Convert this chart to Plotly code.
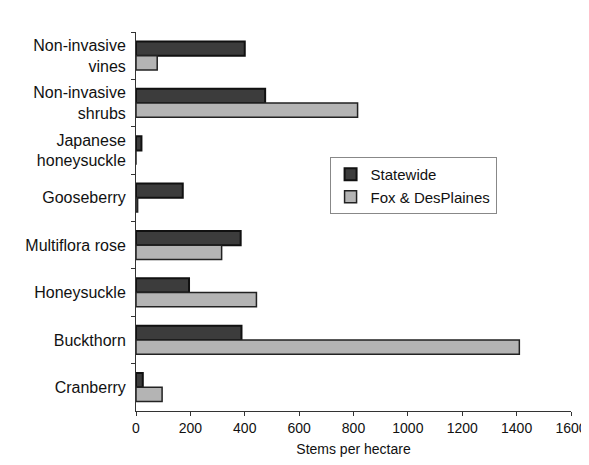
import plotly.graph_objects as go

categories = ["Non-invasive<br>vines", "Non-invasive<br>shrubs", "Japanese<br>honeysuckle",
              "Gooseberry", "Multiflora rose", "Honeysuckle", "Buckthorn", "Cranberry"]
statewide = [400, 475, 20, 172, 385, 195, 388, 25]
fox_desplaines = [78, 815, 0, 6, 315, 443, 1410, 96]
x_ticks = [0, 200, 400, 600, 800, 1000, 1200, 1400, 1600]

font = "Liberation Sans, Arial, sans-serif"

fig = go.Figure()
fig.add_trace(go.Bar(
    y=categories, x=statewide, orientation="h", name="Statewide",
    marker=dict(color="#3c3c3c", line=dict(color="#111111", width=2)),
))
fig.add_trace(go.Bar(
    y=categories, x=fox_desplaines, orientation="h", name="Fox & DesPlaines",
    marker=dict(color="#b4b4b4", line=dict(color="#222222", width=1.5)),
))

# page body has an 8px margin, so the figure is shifted by 8px right/down
fig.update_layout(
    width=581, height=449,
    barmode="group", bargap=0.4, bargroupgap=0.0,
    plot_bgcolor="white", paper_bgcolor="white",
    margin=dict(l=128, r=18, t=24, b=46, autoexpand=False),
    font=dict(family=font, color="#111111"),
    showlegend=True,
    legend=dict(x=0.445, y=0.67, xanchor="left", yanchor="top",
                bgcolor="white", bordercolor="#888888", borderwidth=1,
                font=dict(size=15, family=font), tracegroupgap=0,
                itemwidth=30),
    xaxis=dict(range=[0, 1600], tickvals=x_ticks, ticks="outside", ticklen=4,
               tickcolor="#333333", showline=True, linecolor="#333333", linewidth=1,
               showgrid=False, zeroline=False, tickfont=dict(size=14), automargin=False,
               ticklabeloverflow="allow",
               title=dict(text="Stems per hectare", font=dict(size=14), standoff=12)),
    yaxis=dict(autorange="reversed", ticks="outside", tickson="boundaries", ticklen=4,
               tickcolor="#333333", showline=True, linecolor="#333333", linewidth=1,
               showgrid=False, tickfont=dict(size=16), ticklabelstandoff=6, automargin=False),
)

fig.write_html("out.html")
